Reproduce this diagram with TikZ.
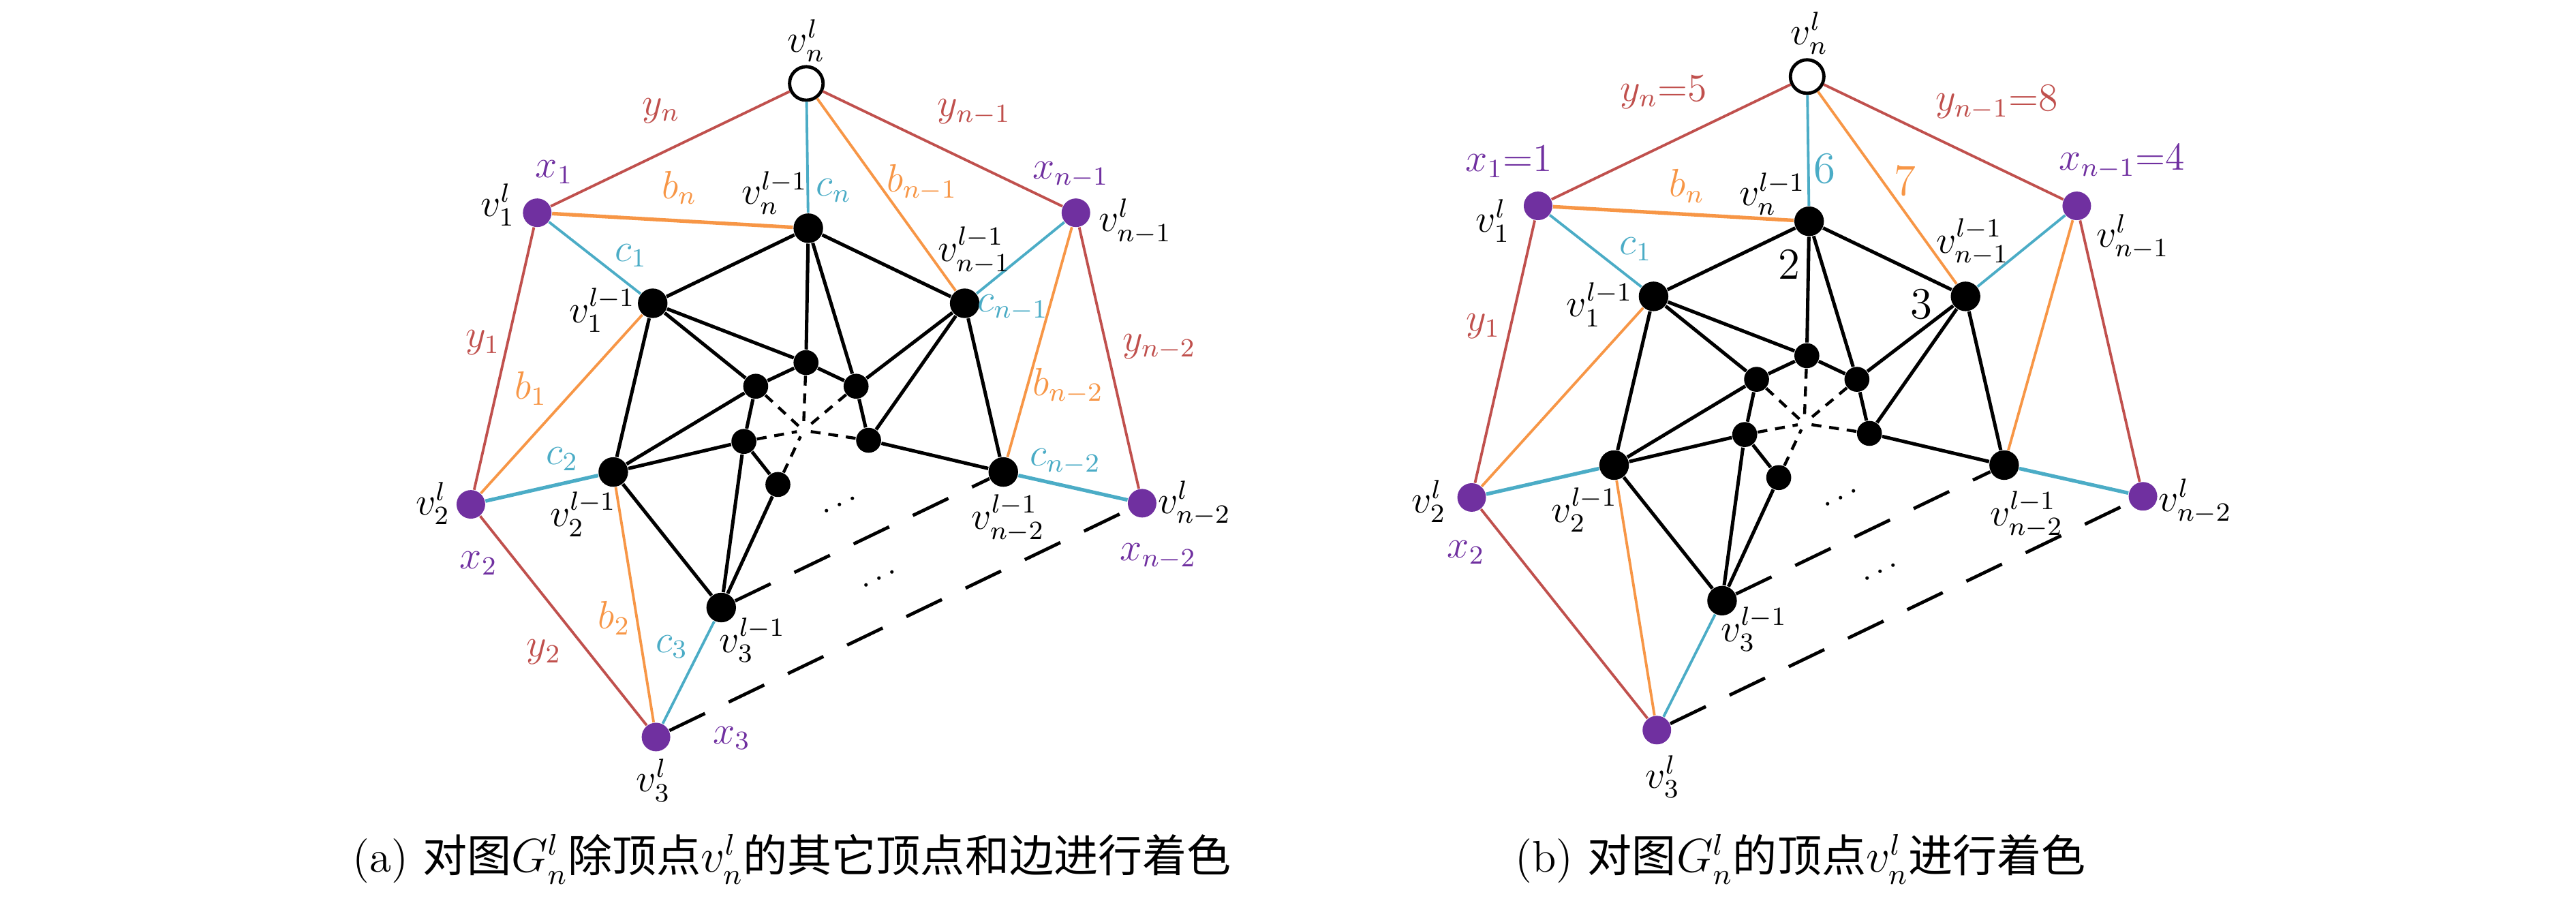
\documentclass[tikz,border=0pt]{standalone}
\usepackage{fontspec}
\usepackage{amsmath}
\newfontfamily\cjk{Noto Sans CJK SC}
\definecolor{cred}{HTML}{C0504D}
\definecolor{cteal}{HTML}{4BACC6}
\definecolor{corange}{HTML}{F79646}
\definecolor{cpurple}{HTML}{7030A0}
\newcommand{\dsh}{-}
\newcommand{\graphbody}{%
  \node[wht] (vn) at (490.8,50.8) {};
  \node[pur] (v1) at (327,129.5) {};
  \node[pur] (vm1) at (654.9,129.5) {};
  \node[pur] (v2) at (286.6,307) {};
  \node[pur] (vm2) at (695.2,306.3) {};
  \node[pur] (v3) at (399.3,448.6) {};
  \node[blk] (un) at (492,138.9) {};
  \node[blk] (u1) at (397.3,184.6) {};
  \node[blk] (um1) at (587.2,184.6) {};
  \node[blk] (u2) at (373.3,287.3) {};
  \node[blk] (um2) at (610.7,287.3) {};
  \node[blk] (u3) at (439,369.8) {};
  \node[sml] (w0) at (490.6,220.7) {};
  \node[sml] (w1) at (460,235.1) {};
  \node[sml] (w2) at (521.1,235.1) {};
  \node[sml] (w3) at (452.8,268.7) {};
  \node[sml] (w4) at (528.7,268) {};
  \node[sml] (w5) at (473.5,294.9) {};
  \coordinate (ctr) at (489,262);
  \node[dotsnode] (d1) at (513,307) {$\cdots$};
  \node[dotsnode] (d2) at (537,352) {$\cdots$};
  \draw[be] (un)--(u1) (un)--(um1) (un)--(w0) (un)--(w2)
    (u1)--(w0) (u1)--(w1) (u1)--(u2)
    (um1)--(w2) (um1)--(w4) (um1)--(um2)
    (w0)--(w1) (w0)--(w2) (w1)--(w3) (w2)--(w4)
    (u2)--(w1) (u2)--(w3) (u2)--(u3)
    (w3)--(w5) (w3)--(u3) (w5)--(u3) (w4)--(um2);
  \path (w0) edge[de] (ctr) (w1) edge[de] (ctr) (w2) edge[de] (ctr)
        (w3) edge[de] (ctr) (w4) edge[de] (ctr) (w5) edge[de] (ctr);
  \draw[ld] (u3)--(um2);
  \draw[ld] (v3)--(vm2);
  \draw[re] (vn)--(v1) (vn)--(vm1) (v1)--(v2) (vm1)--(vm2) (v2)--(v3);
  \draw[te] (vn)--(un) (v1)--(u1) (vm1)--(um1) (v3)--(u3);
  \draw[te,line width=1.1pt] (v2)--(u2) (vm2)--(um2);
  \draw[oe] (vn)--(um1) (vm1)--(um2) (v2)--(u1) (v3)--(u2);
  \draw[oe,line width=1.1pt] (v1)--(un);
}
\begin{document}
\begin{tikzpicture}[x=0.5pt,y=-0.5pt,
  blk/.style={circle,fill=black,inner sep=0pt,minimum size=9pt},
  sml/.style={circle,fill=black,inner sep=0pt,minimum size=7.6pt},
  pur/.style={circle,fill=cpurple,inner sep=0pt,minimum size=8.7pt},
  wht/.style={circle,draw=black,fill=white,line width=1pt,inner sep=0pt,minimum size=10.2pt},
  be/.style={line width=1.05pt,black},
  de/.style={line width=0.9pt,dash pattern=on 3pt off 2.4pt,shorten >=2pt},
  ld/.style={line width=1pt,dash pattern=on 12pt off 8pt},
  re/.style={line width=0.8pt,cred},
  te/.style={line width=0.8pt,cteal},
  oe/.style={line width=0.8pt,corange},
  dotsnode/.style={rotate=26,inner sep=0pt,font=\fontsize{10}{12}\selectfont},
  lab/.style={inner sep=0pt,font=\fontsize{12}{14}\selectfont},
  num/.style={inner sep=0pt,font=\fontsize{13.5}{15}\selectfont},
  captxt/.style={inner sep=0pt,font=\fontsize{13.5}{16}\selectfont}]
\useasboundingbox (0,0) rectangle (1568,549.6);
% ---------- panel (a)
\begin{scope}[name prefix=a-]
  \graphbody
  \node[lab] (lvn) at (490.8,24.8) {$v_n^l$};
  \node[lab,cred] (lyn) at (402.5,67.3) {$y_n$};
  \node[lab,cred] (lym1) at (593,68.3) {$y_{n\dsh1}$};
  \node[lab,cpurple] (lx1) at (337.4,104.8) {$x_1$};
  \node[lab] (lv1) at (303,124.8) {$v_1^l$};
  \node[lab,corange] (lbn) at (413.6,114.3) {$b_n$};
  \node[lab] (lun) at (471.5,117.5) {$v_n^{l\dsh1}$};
  \node[lab,cteal] (lcn) at (507.5,115.9) {$c_n$};
  \node[lab,corange] (lbm1) at (561.2,111.1) {$b_{n\dsh1}$};
  \node[lab,cpurple] (lxm1) at (651.7,106.3) {$x_{n\dsh1}$};
  \node[lab] (lvm1) at (691,134.9) {$v_{n\dsh1}^l$};
  \node[lab,cteal] (lc1) at (384.1,155.6) {$c_1$};
  \node[lab] (lum1) at (593,152.5) {$v_{n\dsh1}^{l\dsh1}$};
  \node[lab] (lu1) at (366.5,188.9) {$v_1^{l\dsh1}$};
  \node[lab,cteal] (lcm1) at (616.5,187.3) {$c_{n\dsh1}$};
  \node[lab,cred] (ly1) at (293.9,208.6) {$y_1$};
  \node[lab,cred] (lym2) at (705.7,211.1) {$y_{n\dsh2}$};
  \node[lab,corange] (lb1) at (323.1,236.5) {$b_1$};
  \node[lab,corange] (lbm2) at (650.1,234.9) {$b_{n\dsh2}$};
  \node[lab,cteal] (lc2) at (342.2,279.4) {$c_2$};
  \node[lab,cteal] (lcm2) at (648.5,281) {$c_{n\dsh2}$};
  \node[lab] (lv2) at (263.5,306.3) {$v_2^l$};
  \node[lab] (lu2) at (354.9,313) {$v_2^{l\dsh1}$};
  \node[lab] (lvm2) at (727,306.3) {$v_{n\dsh2}^l$};
  \node[lab] (lum2) at (613.6,315.5) {$v_{n\dsh2}^{l\dsh1}$};
  \node[lab,cpurple] (lx2) at (291.4,342.9) {$x_2$};
  \node[lab,cpurple] (lxm2) at (705,338.7) {$x_{n\dsh2}$};
  \node[lab,corange] (lb2) at (373.9,376.2) {$b_2$};
  \node[lab] (lu3) at (458,389.5) {$v_3^{l\dsh1}$};
  \node[lab,cred] (ly2) at (331.1,396.8) {$y_2$};
  \node[lab,cteal] (lc3) at (408.9,393.7) {$c_3$};
  \node[lab,cpurple] (lx3) at (445.4,449.2) {$x_3$};
  \node[lab] (lv3) at (397.7,475) {$v_3^l$};
\end{scope}
% ---------- panel (b)
\begin{scope}[shift={(609.2,-4.2)},name prefix=b-]
  \graphbody
  \node[lab] (lvn) at (492.1,24.5) {$v_n^l$};
  \node[lab,cred] (lyn) at (403.5,60.2) {$y_n{=}5$};
  \node[lab,cred] (lym1) at (606.3,66.5) {$y_{n\dsh1}{=}8$};
  \node[lab,cpurple] (lx1) at (309.4,102.6) {$x_1{=}1$};
  \node[lab,cpurple] (lxm1) at (682.4,102.6) {$x_{n\dsh1}{=}4$};
  \node[lab,corange] (lbn) at (417.6,117.4) {$b_n$};
  \node[num,cteal] (l6) at (501.3,106.9) {6};
  \node[num,corange] (l7) at (550.5,114.1) {7};
  \node[lab] (lun) at (469.5,122.3) {$v_n^{l\dsh1}$};
  \node[lab] (lv1) at (299.5,138.7) {$v_1^l$};
  \node[lab] (lvm1) at (689,148.5) {$v_{n\dsh1}^l$};
  \node[lab,cteal] (lc1) at (386.5,155.8) {$c_1$};
  \node[num] (l2) at (480,164.9) {2};
  \node[lab] (lum1) at (591.5,151.5) {$v_{n\dsh1}^{l\dsh1}$};
  \node[num] (l3) at (560.3,189.5) {3};
  \node[lab] (lu1) at (364.5,189.5) {$v_1^{l\dsh1}$};
  \node[lab,cred] (ly1) at (293.6,202.7) {$y_1$};
  \node[lab] (lv2) at (260.5,309.2) {$v_2^l$};
  \node[lab] (lu2) at (355.3,314.5) {$v_2^{l\dsh1}$};
  \node[lab] (lum2) at (624.3,317.5) {$v_{n\dsh2}^{l\dsh1}$};
  \node[lab] (lvm2) at (727,309.3) {$v_{n\dsh2}^l$};
  \node[lab,cpurple] (lx2) at (283.1,340.5) {$x_2$};
  \node[lab] (lu3) at (458.5,387) {$v_3^{l\dsh1}$};
  \node[lab] (lv3) at (402.9,477) {$v_3^l$};
\end{scope}
% ---------- captions
\node[captxt] (capa) at (482,523) {(a) {\cjk 对图}$G_n^l${\cjk 除顶点}$v_n^l${\cjk 的其它顶点和边进行着色}};
\node[captxt] (capb) at (1096,523) {(b) {\cjk 对图}$G_n^l${\cjk 的顶点}$v_n^l${\cjk 进行着色}};
\end{tikzpicture}
\end{document}
